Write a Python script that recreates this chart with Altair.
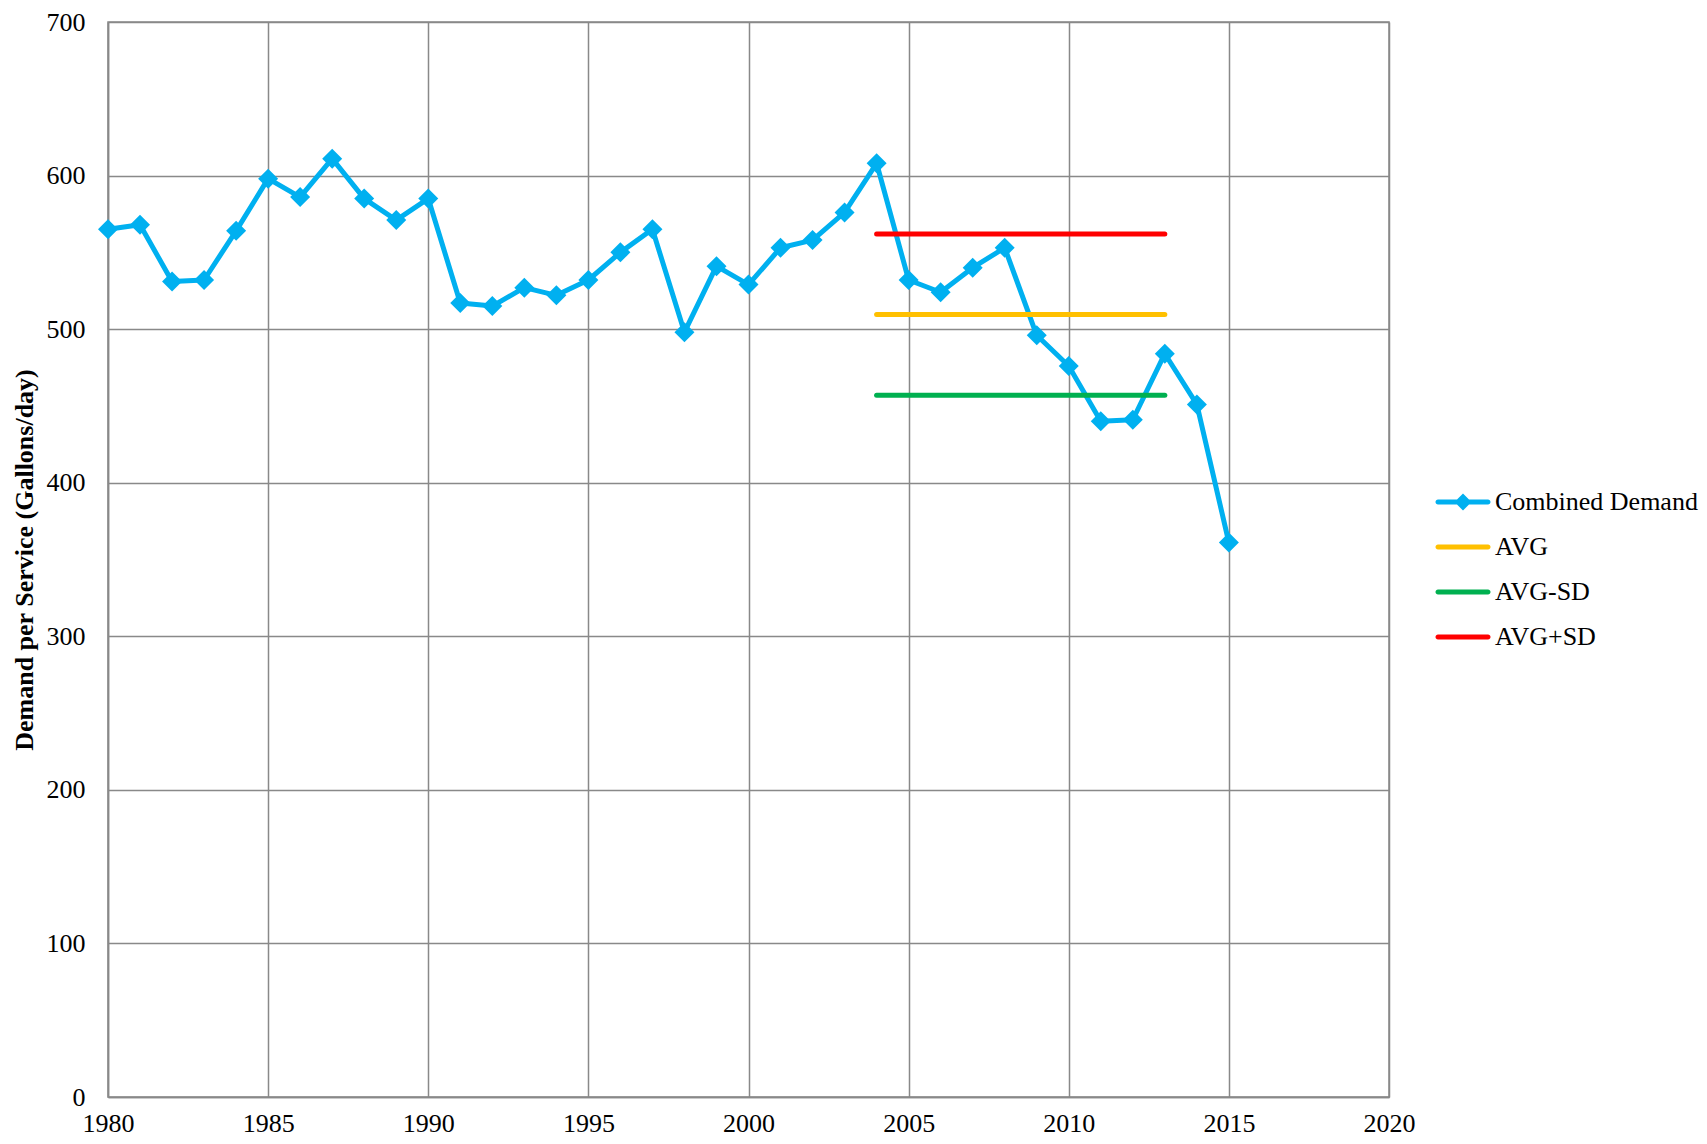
import altair as alt
import pandas as pd

# ---- data ----
years = list(range(1980, 2016))
demand = [565, 568, 531, 532, 564, 598, 586, 611, 585, 571,
          585, 517, 515, 527, 522, 532, 550, 565, 498, 541,
          529, 553, 558, 576, 608, 532, 524, 540, 553, 496,
          476, 440, 441, 484, 451, 361]
stat_years = [2004, 2013]
stat_names = ["AVG", "AVG-SD", "AVG+SD"]
stat_values = [509.5, 457, 562]

series_names = ["Combined Demand", "AVG", "AVG-SD", "AVG+SD"]
series_colors = ["#00B0F0", "#FFC000", "#00B050", "#FF0000"]
x_ticks = list(range(1980, 2021, 5))
y_ticks = list(range(0, 701, 100))

# legend glyphs: a round-capped bar, plus a diamond for the demand series
BAR = "M-2,-0.2H2A0.2,0.2 0 0 1 2,0.2H-2A0.2,0.2 0 0 1 -2,-0.2Z"
DIAMOND = "M0,-0.68L0.68,0L0,0.68L-0.68,0Z"
legend_shapes = [BAR + DIAMOND, BAR, BAR, BAR]

demand_df = pd.DataFrame({"year": years, "value": demand, "series": "Combined Demand"})
stat_rows = []
for name, v in zip(stat_names, stat_values):
    for yr in stat_years:
        stat_rows.append({"year": yr, "value": v, "series": name})
stat_df = pd.DataFrame(stat_rows)

FONT = "Liberation Serif"
GRID = "#898989"
LINE_W = 5

x_enc = alt.X(
    "year:Q",
    scale=alt.Scale(domain=[1980, 2020], nice=False, zero=False),
    axis=alt.Axis(values=x_ticks, format="d", title=None, grid=True,
                  gridColor=GRID, gridWidth=1.5, domainColor=GRID, domainWidth=1.5,
                  ticks=False, tickSize=0, labelPadding=13, labelFont=FONT,
                  labelFontSize=26, labelColor="black", labelBaseline="top",
                  labelFlush=False, labelOverlap=False),
)
y_enc = alt.Y(
    "value:Q",
    scale=alt.Scale(domain=[0, 700], nice=False),
    axis=alt.Axis(values=y_ticks, title="Demand per Service (Gallons/day)", grid=True,
                  gridColor=GRID, gridWidth=1.5, domainColor=GRID, domainWidth=1.5,
                  ticks=False, tickSize=0, labelPadding=23, labelFont=FONT,
                  labelFontSize=26, labelColor="black", labelFlush=False,
                  labelOverlap=False,
                  titleFont=FONT, titleFontSize=26, titleFontWeight="bold",
                  titleColor="black", titleX=-84, titleY=537.5,
                  titleAlign="center", titleBaseline="middle", titleAngle=270),
)

legend = alt.Legend(
    orient="none", legendX=1342, legendY=467, title=None,
    symbolSize=625, symbolStrokeWidth=0, symbolOpacity=1,
    labelFont=FONT, labelFontSize=26, labelColor="black", labelOffset=19,
    labelLimit=400, rowPadding=19, padding=0,
)

# legend-only layer: no marks drawn, the explicit domains give the entries
legend_layer = alt.Chart(stat_df).transform_filter("false").mark_point(
    filled=True, size=625, opacity=1
).encode(
    x=x_enc, y=y_enc,
    color=alt.Color("series:N", scale=alt.Scale(domain=series_names, range=series_colors),
                    legend=legend),
    shape=alt.Shape("series:N", scale=alt.Scale(domain=series_names, range=legend_shapes),
                    legend=legend),
)

demand_line = alt.Chart(demand_df).mark_line(
    strokeWidth=LINE_W, strokeJoin="round", strokeCap="round", color="#00B0F0"
).encode(x=x_enc, y=y_enc)

demand_pts = alt.Chart(demand_df).mark_point(
    shape="diamond", filled=True, size=400, opacity=1, color="#00B0F0"
).encode(x=x_enc, y=y_enc)

stat_lines = alt.Chart(stat_df).mark_line(
    strokeWidth=LINE_W, strokeCap="round"
).encode(
    x=x_enc, y=y_enc,
    stroke=alt.Stroke("series:N", scale=alt.Scale(domain=series_names, range=series_colors),
                      legend=None),
    detail="series:N",
)

chart = alt.layer(legend_layer, demand_line, demand_pts, stat_lines).properties(
    width=1281, height=1075,
    padding={"left": 100, "top": 14, "right": 310, "bottom": 39},
    autosize=alt.AutoSizeParams(type="none"),
).configure_view(stroke=GRID, strokeWidth=1.5)

chart.save("out.html", embed_options={"renderer": "svg", "actions": False})
